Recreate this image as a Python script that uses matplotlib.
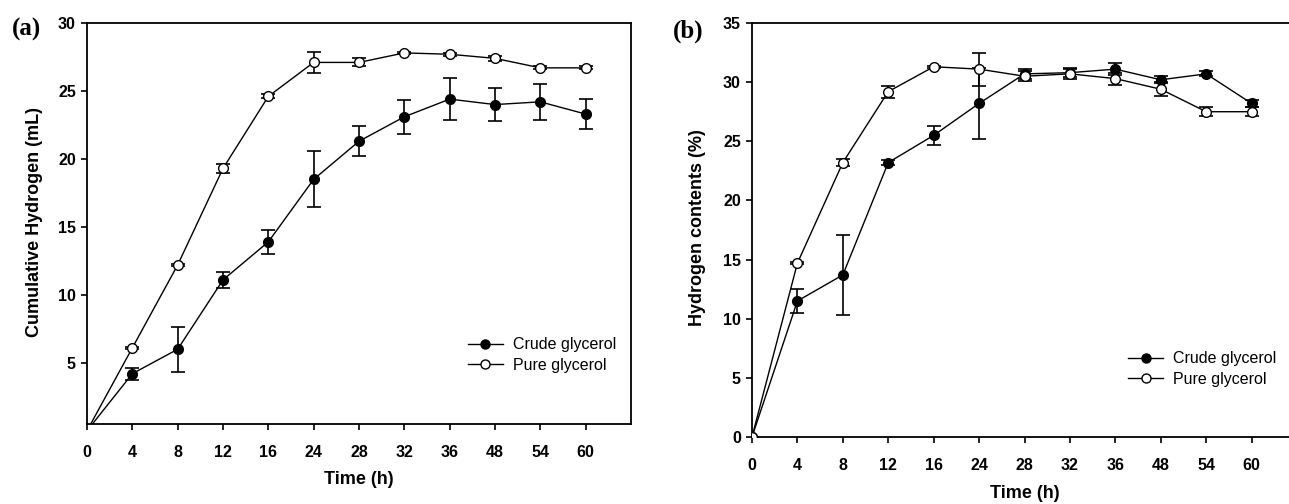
import matplotlib.pyplot as plt
from matplotlib.lines import Line2D
import numpy as np

plt.rcParams['font.family'] = ['Liberation Sans', 'DejaVu Sans']

time_labels = ["0", "4", "8", "12", "16", "24", "28", "32", "36", "48", "54", "60"]

# (a) cumulative hydrogen (mL)
crude_h2 = [0, 4.2, 6.0, 11.1, 13.9, 18.5, 21.3, 23.1, 24.4, 24.0, 24.2, 23.3]
crude_h2_err = [0, 0.45, 1.65, 0.6, 0.9, 2.05, 1.1, 1.25, 1.55, 1.2, 1.3, 1.1]
pure_h2 = [0, 6.1, 12.2, 19.3, 24.6, 27.1, 27.1, 27.8, 27.7, 27.4, 26.7, 26.7]
pure_h2_err = [0, 0.1, 0.1, 0.3, 0.15, 0.75, 0.3, 0.1, 0.1, 0.2, 0.1, 0.1]

# (b) hydrogen contents (%)
crude_pct = [0, 11.5, 13.7, 23.2, 25.5, 28.2, 30.7, 30.8, 31.1, 30.2, 30.7, 28.2]
crude_pct_err = [0, 1.0, 3.4, 0.2, 0.8, 3.0, 0.4, 0.4, 0.5, 0.3, 0.2, 0.3]
pure_pct = [0, 14.7, 23.2, 29.2, 31.3, 31.1, 30.5, 30.7, 30.3, 29.4, 27.5, 27.5]
pure_pct_err = [0, 0.1, 0.3, 0.5, 0.1, 1.4, 0.4, 0.4, 0.5, 0.6, 0.4, 0.4]

x = np.arange(len(time_labels))

fig = plt.figure(figsize=(12.89, 5.04), dpi=100)
W, H = 1289, 504
ax1 = fig.add_axes([87 / W, 1 - 424 / H, (631 - 87) / W, (424 - 23) / H])
ax2 = fig.add_axes([752 / W, 1 - 437 / H, (1297 - 752) / W, (437 - 23) / H])


def draw(ax, crude, crude_err, pure, pure_err, leg_xy):
    ekw = dict(fmt="none", ecolor="black", capsize=5, elinewidth=1.2, capthick=1.2)
    ax.errorbar(x, crude, yerr=crude_err, zorder=2, **ekw)
    ax.errorbar(x, pure, yerr=pure_err, zorder=2, **ekw)
    mkw = dict(color="black", lw=1.0, ms=7, markeredgecolor="black",
               markeredgewidth=1.0, marker="o", zorder=3)
    ax.plot(x, crude, markerfacecolor="black", **mkw)
    ax.plot(x, pure, markerfacecolor="white", **mkw)
    ax.set_xlim(0, 12)
    ax.set_xticks(x)
    ax.set_xticklabels(time_labels)
    for s in ax.spines.values():
        s.set_linewidth(1.3)
    ax.tick_params(direction="out", length=4, width=1.2, labelsize=11.5)
    ax.tick_params(axis="x", pad=11)
    ax.tick_params(axis="y", pad=4)
    handles = [
        Line2D([], [], color="black", lw=1.0, marker="o", ms=6.5,
               markerfacecolor="black", markeredgecolor="black"),
        Line2D([], [], color="black", lw=1.0, marker="o", ms=6.5,
               markerfacecolor="white", markeredgecolor="black"),
    ]
    ax.legend(handles, ["Crude glycerol", "Pure glycerol"], frameon=False,
              fontsize=11.5, numpoints=1, handlelength=2.2, handletextpad=0.6,
              labelspacing=0.35, loc="center left", bbox_to_anchor=leg_xy,
              borderaxespad=0, borderpad=0)


draw(ax1, crude_h2, crude_h2_err, pure_h2, pure_h2_err, (0.70, 0.172))
ax1.set_ylim(0.5, 30)
ax1.set_yticks([5, 10, 15, 20, 25, 30])

draw(ax2, crude_pct, crude_pct_err, pure_pct, pure_pct_err, (0.69, 0.164))
ax2.set_ylim(0, 35)
ax2.set_yticks([0, 5, 10, 15, 20, 25, 30, 35])
ax2.spines["right"].set_visible(False)

for ax in (ax1, ax2):
    for lab in ax.get_xticklabels() + ax.get_yticklabels():
        lab.set_fontweight("bold")

fig.text(35 / W, 1 - 222 / H, "Cumulative Hydrogen (mL)", rotation=90,
         fontsize=13, fontweight="bold", ha="center", va="center")
fig.text(359 / W, 1 - 480 / H, "Time (h)", fontsize=13, fontweight="bold",
         ha="center", va="center")
fig.text(697 / W, 1 - 228 / H, "Hydrogen contents (%)", rotation=90,
         fontsize=13, fontweight="bold", ha="center", va="center")
fig.text(1025 / W, 1 - 494 / H, "Time (h)", fontsize=13, fontweight="bold",
         ha="center", va="center")

fig.text(12 / W, 1 - 29 / H, "(a)", fontsize=18, fontweight="bold",
         family="Liberation Serif", va="center", ha="left")
fig.text(673 / W, 1 - 31 / H, "(b)", fontsize=18, fontweight="bold",
         family="Liberation Serif", va="center", ha="left")

fig.savefig("out.png", dpi=100)
